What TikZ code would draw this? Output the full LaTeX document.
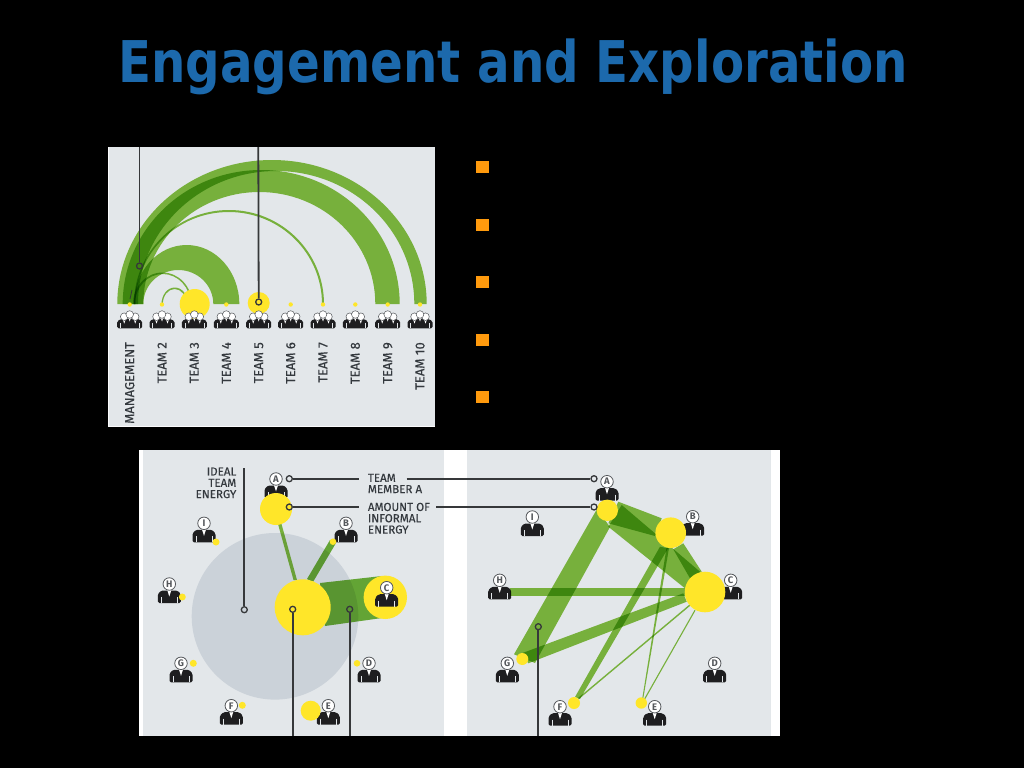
\documentclass[tikz,border=0pt]{standalone}
\usepackage{fontspec}
\setmainfont{Fira Sans}
\newfontfamily\labelfont[FakeBold=.35]{Fira Sans}
\newfontfamily\titlefont[FakeStretch=.84]{DejaVu Sans}
\definecolor{panel}{HTML}{E3E7EA}
\definecolor{leaf}{RGB}{134,195,66}
\definecolor{leafdeep}{RGB}{112,182,58}
\definecolor{sun}{HTML}{FFE629}
\definecolor{ink}{HTML}{1E1E20}
\definecolor{leader}{HTML}{36383A}
\definecolor{labelc}{HTML}{34393E}
\definecolor{headline}{HTML}{55585C}
\definecolor{titleblue}{HTML}{1C69AC}
\definecolor{orangeb}{HTML}{FF9A0D}
\definecolor{idealgray}{HTML}{CBD2D9}
\tikzset{
 leafband/.style={fill=leaf,draw=none,blend mode=multiply},
 deepband/.style={fill=leafdeep,draw=none,blend mode=multiply},
 leadline/.style={draw=leader,line width=1.8pt},
 ring/.style={circle,draw=leader,line width=1.3pt,fill=none,minimum size=6pt,inner sep=0pt},
 sundot/.style={circle,fill=sun,draw=none,inner sep=0pt},
 bulletbox/.style={rectangle,fill=orangeb,draw=none,minimum width=13pt,minimum height=12pt,inner sep=0pt},
 teamlabel/.style={rotate=90,anchor=east,font=\labelfont\fontsize{13}{13}\selectfont,text=labelc,inner sep=0pt},
 smalllabel/.style={font=\labelfont\fontsize{11.6}{11.3}\selectfont,text=labelc,inner sep=0pt,align=left},
 headnode/.style={circle,fill=white,draw=headline,line width=.8pt,minimum size=12.5pt,inner sep=0pt,font=\fontsize{9.5}{9.5}\selectfont\bfseries,text=headline},
}
\newcommand\halfband[6]{%
 \pgfmathsetmacro\xco{(#1+#2)/2}\pgfmathsetmacro\xci{(#4+#5)/2}%
 \pgfmathsetmacro\kxo{.5523*(#2-#1)/2}\pgfmathsetmacro\kxi{.5523*(#5-#4)/2}%
 \pgfmathsetmacro\kyo{304-.5523*(304-#3)}\pgfmathsetmacro\kyi{304-.5523*(304-#6)}%
 \fill[leafband] (#1,304) .. controls (#1,\kyo) and (\xco-\kxo,#3) .. (\xco,#3)
   .. controls (\xco+\kxo,#3) and (#2,\kyo) .. (#2,304) -- (#5,304)
   .. controls (#5,\kyi) and (\xci+\kxi,#6) .. (\xci,#6)
   .. controls (\xci-\kxi,#6) and (#4,\kyi) .. (#4,304) -- cycle;
}
\newcommand\teamicon[1]{%
 \begin{scope}[shift={(#1,0)}]
  \fill[ink,rounded corners=1.5pt] (-12.5,328.3) -- (-12.5,321) -- (-7,318.5) -- (7,318.5) -- (12.5,321) -- (12.5,328.3) -- cycle;
  \draw[panel,line width=.5pt] (-9.5,323) -- (-9.5,328.3) (9.5,323) -- (9.5,328.3);
  \foreach \dx/\dy in {-5.5/316.7,5.5/316.7,0/314.5}{
   \fill[white] (\dx-2.4,\dy) -- (\dx+2.4,\dy) -- (\dx,\dy+7) -- cycle;
   \filldraw[fill=white,draw=headline,line width=.5pt] (\dx,\dy) circle (3.8);
  }
 \end{scope}}
\newcommand\person[4]{%
 \begin{scope}[shift={(#2,#3)}]
  \fill[ink,rounded corners=1.5pt] (-11.5,19) -- (-11.5,10) -- (-8,6.5) -- (8,6.5) -- (11.5,10) -- (11.5,19) -- cycle;
  \fill[white] (-2.4,5) -- (2.4,5) -- (0,12.5) -- cycle;
  \draw[panel,line width=.5pt] (-8,13) -- (-8,19) (8,13) -- (8,19);
  \node[headnode] (#1) at (0,0) {#4};
 \end{scope}}
\begin{document}
\begin{tikzpicture}[x=1pt,y=-1pt]
\useasboundingbox (0,0) rectangle (1024,768);
\fill[black] (0,0) rectangle (1024,768);
\node[font=\titlefont\fontsize{57.5}{57.5}\selectfont\bfseries,text=titleblue,inner sep=0pt,anchor=base] (title) at (513,82.7) {Engagement and Exploration};
\foreach \i/\yy in {1/167,2/224.5,3/282,4/339.5,5/396.5}
  \node[bulletbox] (bul\i) at (482.5,\yy) {};
\fill[white!85!panel] (107.5,147) rectangle (435,427);
\fill[panel] (109,147) rectangle (435,426);
\halfband{117.3}{426.7}{160}{138}{414.3}{171}
\halfband{122.7}{399.7}{170}{143.3}{375.3}{192}
\halfband{134}{239.3}{245}{143.3}{213.3}{270}
\halfband{134}{324}{210}{135.5}{322}{212}
\halfband{133}{192}{272.5}{135}{190.5}{274}
\halfband{161.5}{188}{287.5}{162.8}{186.5}{289}
\foreach \i/\xx/\nm in {1/129.7/MANAGEMENT,2/162/TEAM 2,3/194.3/TEAM 3,4/226.3/TEAM 4,5/258.7/TEAM 5,6/290.7/TEAM 6,7/323/TEAM 7,8/355.3/TEAM 8,9/387.7/TEAM 9,10/420/TEAM 10}{
  \node[sundot,minimum size=4.4pt] (dot\i) at (\xx,304.5) {};
  \node[teamlabel] (lab\i) at (\xx,342) {\nm};
}
\node[sundot,minimum size=30pt] (sun3) at (194.7,304) {};
\node[sundot,minimum size=22pt] (sun5) at (258.7,303) {};
\foreach \xx in {129.7,162,194.3,226.3,258.7,290.7,323,355.3,387.7,420}
  \teamicon{\xx}
\coordinate (lead1top) at (139.5,147);
\coordinate (lead5top) at (258.3,147);
\node[ring] (lead1) at (139.5,266) {};
\node[ring] (lead5) at (258.7,302) {};
\draw[leadline] (lead1top) -- (lead1);
\draw[leadline] (lead5top) -- (lead5);
\coordinate (tick1) at (130,299); \coordinate (tick2) at (132,290);
\draw[leadline,line width=.8pt] (tick1) -- (tick2);
\fill[white] (139,450) rectangle (780,736);
\fill[panel] (143,450) rectangle (444.3,736);
\fill[panel] (467.3,450) rectangle (770.7,736);
\fill[idealgray] (275,616.3) circle (83.3);
\fill[leafband] (278,524) -- (281.5,524) -- (297,580) -- (293.5,580) -- cycle;
\fill[deepband] (330,540) -- (336,543) -- (313,582) -- (307,579) -- cycle;
\fill[deepband] (320,583) -- (382,576) -- (382,618) -- (325,626) -- cycle;
\person{la}{276}{479}{A}
\person{li}{204}{523.3}{I}
\person{lb}{346}{523.3}{B}
\person{lh}{169.3}{584}{H}
\person{lg}{181}{663.3}{G}
\person{ld}{369}{663.3}{D}
\person{lf}{231.3}{705.7}{F}
\person{le}{328.3}{705.7}{E}
\node[sundot,minimum size=32pt] (ysa) at (276,509) {};
\node[sundot,minimum size=6.6pt] (ysb) at (333,541.7) {};
\node[sundot,minimum size=43.4pt] (ysc) at (385.3,597.3) {};
\node[sundot,minimum size=7pt] (ysi) at (216,542) {};
\node[sundot,minimum size=7pt] (ysh) at (182.3,597) {};
\node[sundot,minimum size=7pt] (ysg) at (193.3,663.3) {};
\node[sundot,minimum size=6.6pt] (ysd) at (357,663.3) {};
\node[sundot,minimum size=7pt] (ysf) at (242.3,705.3) {};
\node[sundot,minimum size=20pt] (yse) at (310.7,710.7) {};
\node[sundot,minimum size=56pt] (ysm) at (302.7,607.3) {};
\person{lc}{386.7}{587.7}{C}
\person{ra}{607}{481.7}{A}
\person{rb}{692.7}{516.7}{B}
\person{rc}{730.7}{580.3}{C}
\person{ri}{532.3}{517}{I}
\person{rh}{499.7}{580.3}{H}
\person{rg}{507.3}{663.3}{G}
\person{rd}{714.7}{663.3}{D}
\person{rf}{560}{706.7}{F}
\person{re}{654.7}{706.7}{E}
\fill[leafband] (597,509) -- (610,527) -- (535,663) -- (514,654.3) -- cycle;
\fill[leafband] (618.3,501.7) -- (661.7,518.3) -- (655,536) -- (608.3,523.3) -- cycle;
\fill[leafband] (621.7,505) -- (700,571.7) -- (685,588.3) -- (608.3,526.7) -- cycle;
\fill[leafband] (683.3,543.3) -- (701.7,571.7) -- (690,578.3) -- (673.3,549.3) -- cycle;
\fill[leafband] (510,588.3) -- (686,588.3) -- (686,595.7) -- (510,595.7) -- cycle;
\fill[leafband] (521.7,653.3) -- (683.3,593.3) -- (686.7,601.7) -- (528.3,663.3) -- cycle;
\fill[leafband] (660,546.7) -- (668,548.3) -- (580,699) -- (575,697) -- cycle;
\fill[leafband] (666.5,548) -- (669,548) -- (643,700) -- (642,700) -- cycle;
\fill[leafband] (689.5,604.5) -- (690.5,605.5) -- (579,699) -- (578,698) -- cycle;
\fill[leafband] (694.5,610) -- (695.5,610.5) -- (645,699.5) -- (644,699) -- cycle;
\node[sundot,minimum size=21.4pt] (yra) at (607.3,510.3) {};
\node[sundot,minimum size=30.6pt] (yrb) at (670.7,532.7) {};
\node[sundot,minimum size=40.6pt] (yrc) at (705,592) {};
\node[sundot,minimum size=12pt] (yrg) at (522.3,659) {};
\node[sundot,minimum size=12pt] (yrf) at (574,703) {};
\node[sundot,minimum size=11.4pt] (yre) at (641.3,703) {};
\node[smalllabel,align=right,anchor=north east] (ideal) at (236.5,467.3) {IDEAL\\TEAM\\ENERGY};
\node[smalllabel,anchor=north west] (membera) at (367.7,473.6) {TEAM\\MEMBER A};
\node[smalllabel,anchor=north west] (amount) at (367.7,502.6) {AMOUNT OF\\INFORMAL\\ENERGY};
\node[ring] (ridl) at (244.3,609.7) {};
\coordinate (idltop) at (244.3,468.3);
\draw[leadline] (idltop) -- (ridl);
\node[ring] (rtma) at (289.3,478.7) {};
\node[ring] (rtmb) at (594,478.7) {};
\coordinate (tmg1) at (359.3,478.7); \coordinate (tmg2) at (406.7,478.7);
\draw[leadline] (rtma) -- (tmg1);
\draw[leadline] (tmg2) -- (rtmb);
\node[ring] (ramta) at (289.3,507) {};
\node[ring] (ramtb) at (594,507) {};
\coordinate (amg1) at (359.3,507); \coordinate (amg2) at (436,507);
\draw[leadline] (ramta) -- (amg1);
\draw[leadline] (amg2) -- (ramtb);
\node[ring] (rcen) at (292.7,609.3) {};
\coordinate (cenb) at (292.7,736);
\draw[leadline] (rcen) -- (cenb);
\node[ring] (rgrn) at (349.7,609.3) {};
\coordinate (grnb) at (349.7,736);
\draw[leadline] (rgrn) -- (grnb);
\node[ring] (rrt) at (538.3,626.7) {};
\coordinate (rtb) at (538.3,736);
\draw[leadline] (rrt) -- (rtb);
\end{tikzpicture}
\end{document}
